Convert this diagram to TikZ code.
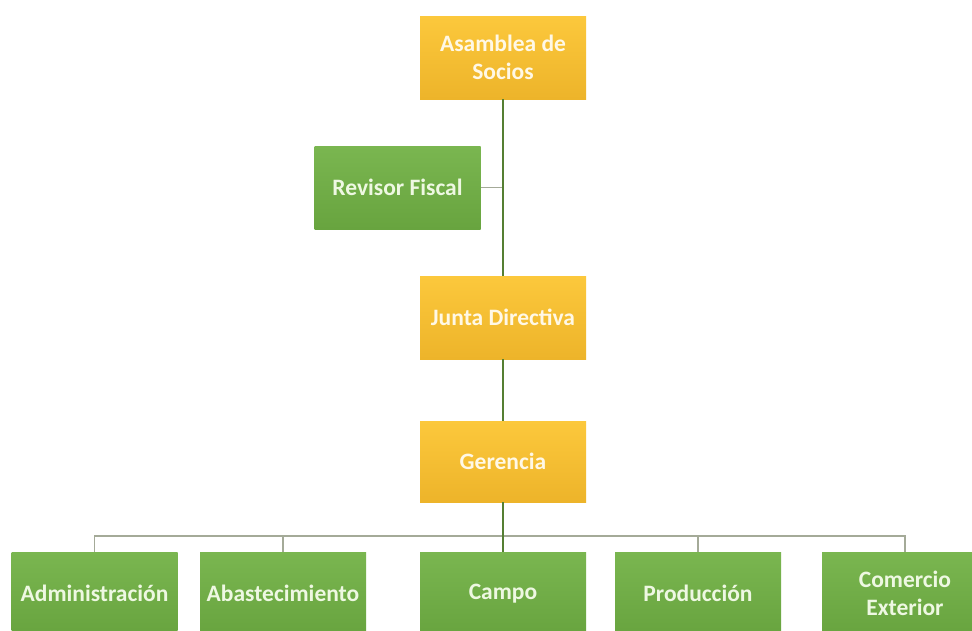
\documentclass[tikz,border=0pt]{standalone}
\usepackage{fontspec}
\setmainfont{Carlito}
\begin{document}
\begin{tikzpicture}[x=1pt,y=-1pt,
  orgbox/.style={rectangle, inner sep=0pt, minimum width=166pt, minimum height=83pt,
    align=center, font=\bfseries\fontsize{23.5}{28}\selectfont},
  gold/.style={orgbox, top color=goldtop, bottom color=goldbot, text=goldtext},
  leaf/.style={orgbox, top color=greentop, bottom color=greenbot, text=greentext},
  mainline/.style={draw=linegreen, line width=1.5pt},
  thinline/.style={draw=linegray, line width=1.1pt}
]
\definecolor{goldtop}{HTML}{FCC83C}
\definecolor{goldbot}{HTML}{EDB42A}
\definecolor{goldtext}{HTML}{FFF8E6}
\definecolor{greentop}{HTML}{7AB650}
\definecolor{greenbot}{HTML}{68A43F}
\definecolor{greentext}{HTML}{EEF8E2}
\definecolor{linegreen}{HTML}{557F33}
\definecolor{linegray}{HTML}{A4AA98}
\useasboundingbox (0,0) rectangle (972,630);
\fill[white] (0,0) rectangle (972,630);

\node[gold] (asam) at (503,57.5) {Asamblea de\\Socios};
\node[leaf] (rev) at (397.5,187.5) {Revisor Fiscal};
\node[gold] (junta) at (503,317.5) {Junta Directiva};
\node[gold, minimum height=81pt] (ger) at (503,461.5) {Gerencia};

\node[leaf, minimum height=82pt] (adm) at (94.5,593) {Administración};
\node[leaf, minimum height=82pt] (aba) at (283,593) {Abastecimiento};
\node[leaf, minimum height=82pt] (cam) at (503,593) {Campo\vphantom{bd}};
\node[leaf, minimum height=82pt] (pro) at (698,593) {Producción};
\node[leaf, minimum height=82pt] (com) at (905,593) {Comercio\\Exterior};

\coordinate (bus) at (503,536);

\draw[thinline] (rev.east) -- (rev.east -| asam.south);
\draw[thinline] (adm.north) -- (adm.north |- bus) -- (com.north |- bus) -- (com.north);
\draw[thinline] (aba.north) -- (aba.north |- bus);
\draw[thinline] (pro.north) -- (pro.north |- bus);
\draw[mainline] (asam.south) -- (junta.north);
\draw[mainline] (junta.south) -- (ger.north);
\draw[mainline] (ger.south) -- (cam.north);
\end{tikzpicture}
\end{document}
